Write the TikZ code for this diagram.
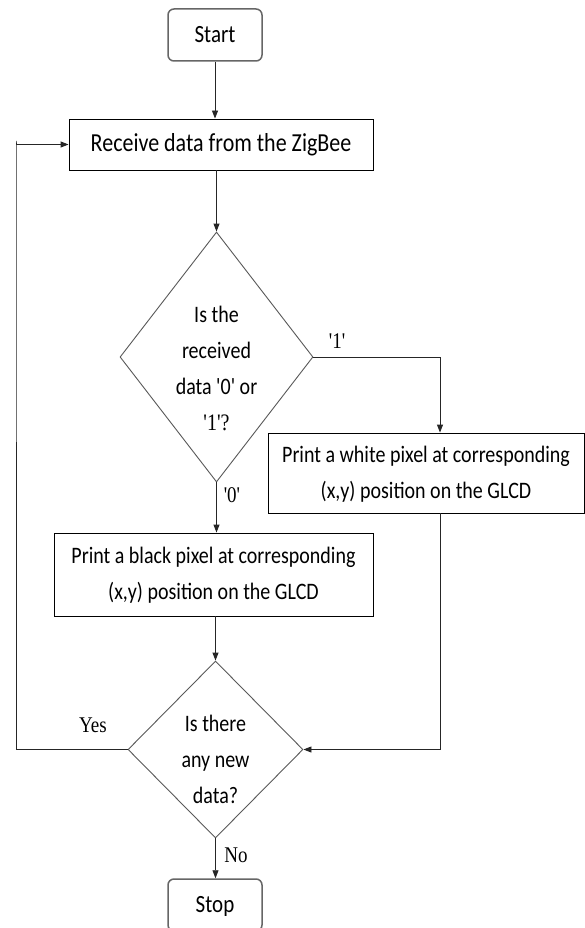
\documentclass[tikz,border=0pt]{standalone}
\usepackage{fontspec}
\usepackage{graphicx}
\setmainfont{Carlito}
\newfontfamily\serifl{Liberation Serif}
\usetikzlibrary{shapes.geometric,arrows.meta,calc}
\newcommand{\stx}[1]{\scalebox{1}[1.18]{\begin{tabular}{@{}c@{}}#1\end{tabular}}}
\newcommand{\qq}{\textquotesingle}
\begin{document}
\begin{tikzpicture}[x=1pt,y=-1pt,
  line width=0.9pt,
  arr/.style={draw=black!85,-{Triangle[length=8pt,width=6pt]}},
  term/.style={draw=black!60,line width=1.5pt,rounded corners=6pt,rectangle,inner sep=0pt,
     minimum width=94pt,minimum height=52pt,font=\fontsize{21}{30}\selectfont},
  proc/.style={draw=black,rectangle,inner sep=0pt,font=\fontsize{20}{30.5}\selectfont},
  dec/.style={draw=black!65,diamond,inner sep=0pt},
  dtext/.style={inner sep=0pt,font=\fontsize{20}{30.5}\selectfont},
  lab/.style={inner sep=0pt,font=\serifl\fontsize{19}{24}\selectfont}]
\useasboundingbox (0,0) rectangle (585,928);
\fill[white] (0,0) rectangle (585,928);

\node[term] (start) at (215,35) {\stx{Start}};
\node[proc,minimum width=304pt,minimum height=51pt,font=\fontsize{22}{30}\selectfont] (recv) at (221,144.5) {\stx{Receive data from the ZigBee}};
\node[dec,minimum width=193pt,minimum height=250pt] (d1) at (216.5,357) {};
\node[dtext] (d1t) at (216.5,369) {\stx{Is the\\received\\data \qq0\qq{} or\\{\serifl\qq1\qq?}}};
\node[proc,minimum width=316pt,minimum height=80pt] (white) at (426,473) {\stx{Print a white pixel at corresponding\\(x,y) position on the GLCD}};
\node[proc,minimum width=319pt,minimum height=83pt] (black) at (213.5,574.5) {\stx{Print a black pixel at corresponding\\(x,y) position on the GLCD}};
\node[dec,minimum width=175pt,minimum height=177pt] (d2) at (215.5,749.5) {};
\node[dtext] (d2t) at (215.5,760) {\stx{Is there\\any new\\data?}};
\node[term] (stop) at (215,905) {\stx{Stop}};

\coordinate (loopx) at (16,141);

\draw[arr] (start.south) -- (start.south |- recv.north);
\draw[arr] (d1.north |- recv.south) -- (d1.north);
\draw[arr] (d1.east) -| ([xshift=14pt]white.north);
\draw[arr] (d1.south) -- (d1.south |- black.north);
\draw[arr] (d2.north |- black.south) -- (d2.north);
\draw[arr] ([xshift=14pt]white.south) |- (d2.east);
\draw[arr] (d2.west) -| (loopx) |- (recv.west);
\draw[arr] (d2.south) -- (d2.south |- stop.north);

\node[lab] (l1) at (337,343) {\stx{\qq1\qq}};
\node[lab] (l0) at (232,497) {\stx{\qq0\qq}};
\node[lab] (lyes) at (93,727) {\stx{Yes}};
\node[lab] (lno) at (236,857) {\stx{No}};
\end{tikzpicture}
\end{document}
